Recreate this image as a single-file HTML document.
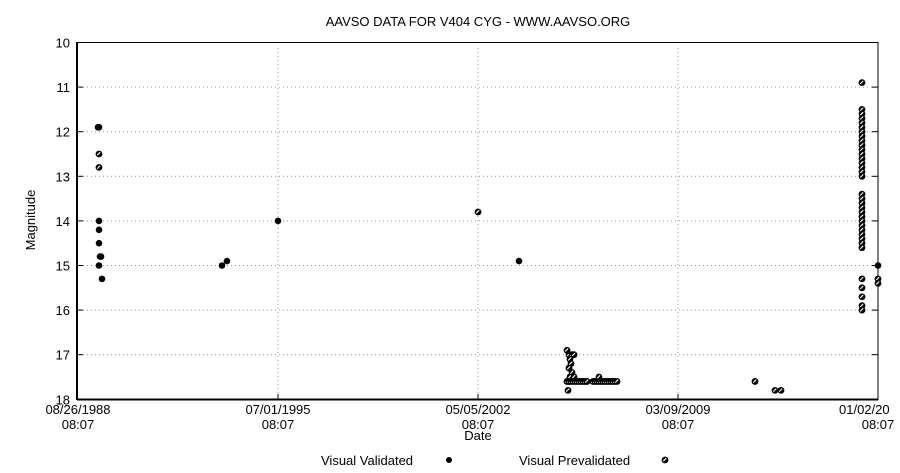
<!DOCTYPE html>
<html><head><meta charset="utf-8"><style>
html,body{margin:0;padding:0;background:#fff;width:900px;height:473px;overflow:hidden;}
svg{display:block;font-family:"Liberation Sans",sans-serif;}
</style></head><body>
<svg id="s" width="900" height="473" viewBox="0 0 900 473" xmlns="http://www.w3.org/2000/svg">
<rect width="900" height="473" fill="#fff"/>
<text x="478" y="26" font-size="13" text-anchor="middle">AAVSO DATA FOR V404 CYG - WWW.AAVSO.ORG</text>
<g id="grid" stroke="#999" stroke-width="1" stroke-dasharray="1,3"></g>
<g id="ticks" stroke="#000" stroke-width="1"></g>
<g id="ylab" font-size="13" text-anchor="end"></g>
<g font-size="13" text-anchor="middle">
<text x="78" y="414">08/26/1988</text><text x="78" y="429">08:07</text>
<text x="278" y="414">07/01/1995</text><text x="278" y="429">08:07</text>
<text x="478" y="414">05/05/2002</text><text x="478" y="429">08:07</text>
<text x="678" y="414">03/09/2009</text><text x="678" y="429">08:07</text>
<text x="878" y="429">08:07</text>
</g>
<text x="839" y="414" font-size="13">01/02/20</text>
<text x="478" y="440" font-size="13" text-anchor="middle">Date</text>
<text x="35" y="220" font-size="13" text-anchor="middle" transform="rotate(-90 35 220)">Magnitude</text>
<text x="321" y="465" font-size="13">Visual Validated</text>
<circle cx="449" cy="460" r="3" fill="#000"/>
<text x="519" y="465" font-size="13">Visual Prevalidated</text>
<g id="leg2"></g>
<path d="M77,42.5 H878 M878,42 V400" stroke="#000" stroke-width="1" fill="none"/>
<path d="M77,42 V400 M77,399.5 H878" stroke="#000" stroke-width="2" fill="none"/>
<g id="pts"></g>
</svg>
<script>
var NS="http://www.w3.org/2000/svg";
function Y(m){return 42.5+(m-10)*44.6;}
function el(p,t,a){var e=document.createElementNS(NS,t);for(var k in a)e.setAttribute(k,a[k]);document.getElementById(p).appendChild(e);return e;}
for(var m=11;m<=17;m++){el("grid","line",{x1:83,x2:872,y1:Y(m),y2:Y(m)});}
[278,478,678].forEach(function(x){el("grid","line",{x1:x,x2:x,y1:48,y2:394});});
for(var m=10;m<=18;m++){el("ticks","line",{x1:77,x2:83,y1:Y(m),y2:Y(m)});el("ticks","line",{x1:872,x2:878,y1:Y(m),y2:Y(m)});
 var t=el("ylab","text",{x:70,y:Y(m)+5});t.textContent=m;}
[278,478,678].forEach(function(x){el("ticks","line",{x1:x,x2:x,y1:394,y2:400});});
function V(x,m){el("pts","circle",{cx:x,cy:Y(m),r:3.3,fill:"#000"});}
function Pr(x,y,g){
 el(g,"circle",{cx:x,cy:y,r:3.4,fill:"#000"});
 el(g,"line",{x1:x-1.8,y1:y+1.2,x2:x+1.2,y2:y-1.8,stroke:"#fff","stroke-width":1.1});}
function P(x,m){Pr(x,Y(m),"pts");}
Pr(665,460,"leg2");
P(99,12.5);P(99,12.8);P(478,13.8);
[[567,16.9],[569,17.0],[572,17.0],[574,17.0],[570,17.1],[571,17.2],[569,17.3],[572,17.4],[570,17.5],[574,17.5],[569,17.6],[568,17.8]].forEach(function(p){P(p[0],p[1]);});
for(var x=567;x<=587;x+=2)P(x,17.6);
for(var x=593;x<=617;x+=2)P(x,17.6);
P(599,17.5);P(755,17.6);P(775,17.8);P(781,17.8);
P(862,10.9);
for(var m=11.5;m<=13.0;m+=0.1)P(862,m);
for(var m=13.4;m<=14.6;m+=0.1)P(862,m);
[15.3,15.5,15.7,15.9,16.0].forEach(function(m){P(862,m);});
P(878,15.3);P(878,15.4);
V(98,11.9);V(99,11.9);V(99,14.0);V(99,14.2);V(99,14.5);V(100,14.8);V(101,14.8);V(99,15.0);V(102,15.3);
V(222,15.0);V(227,14.9);V(278,14.0);V(519,14.9);V(878,15.0);
</script>
</body></html>
